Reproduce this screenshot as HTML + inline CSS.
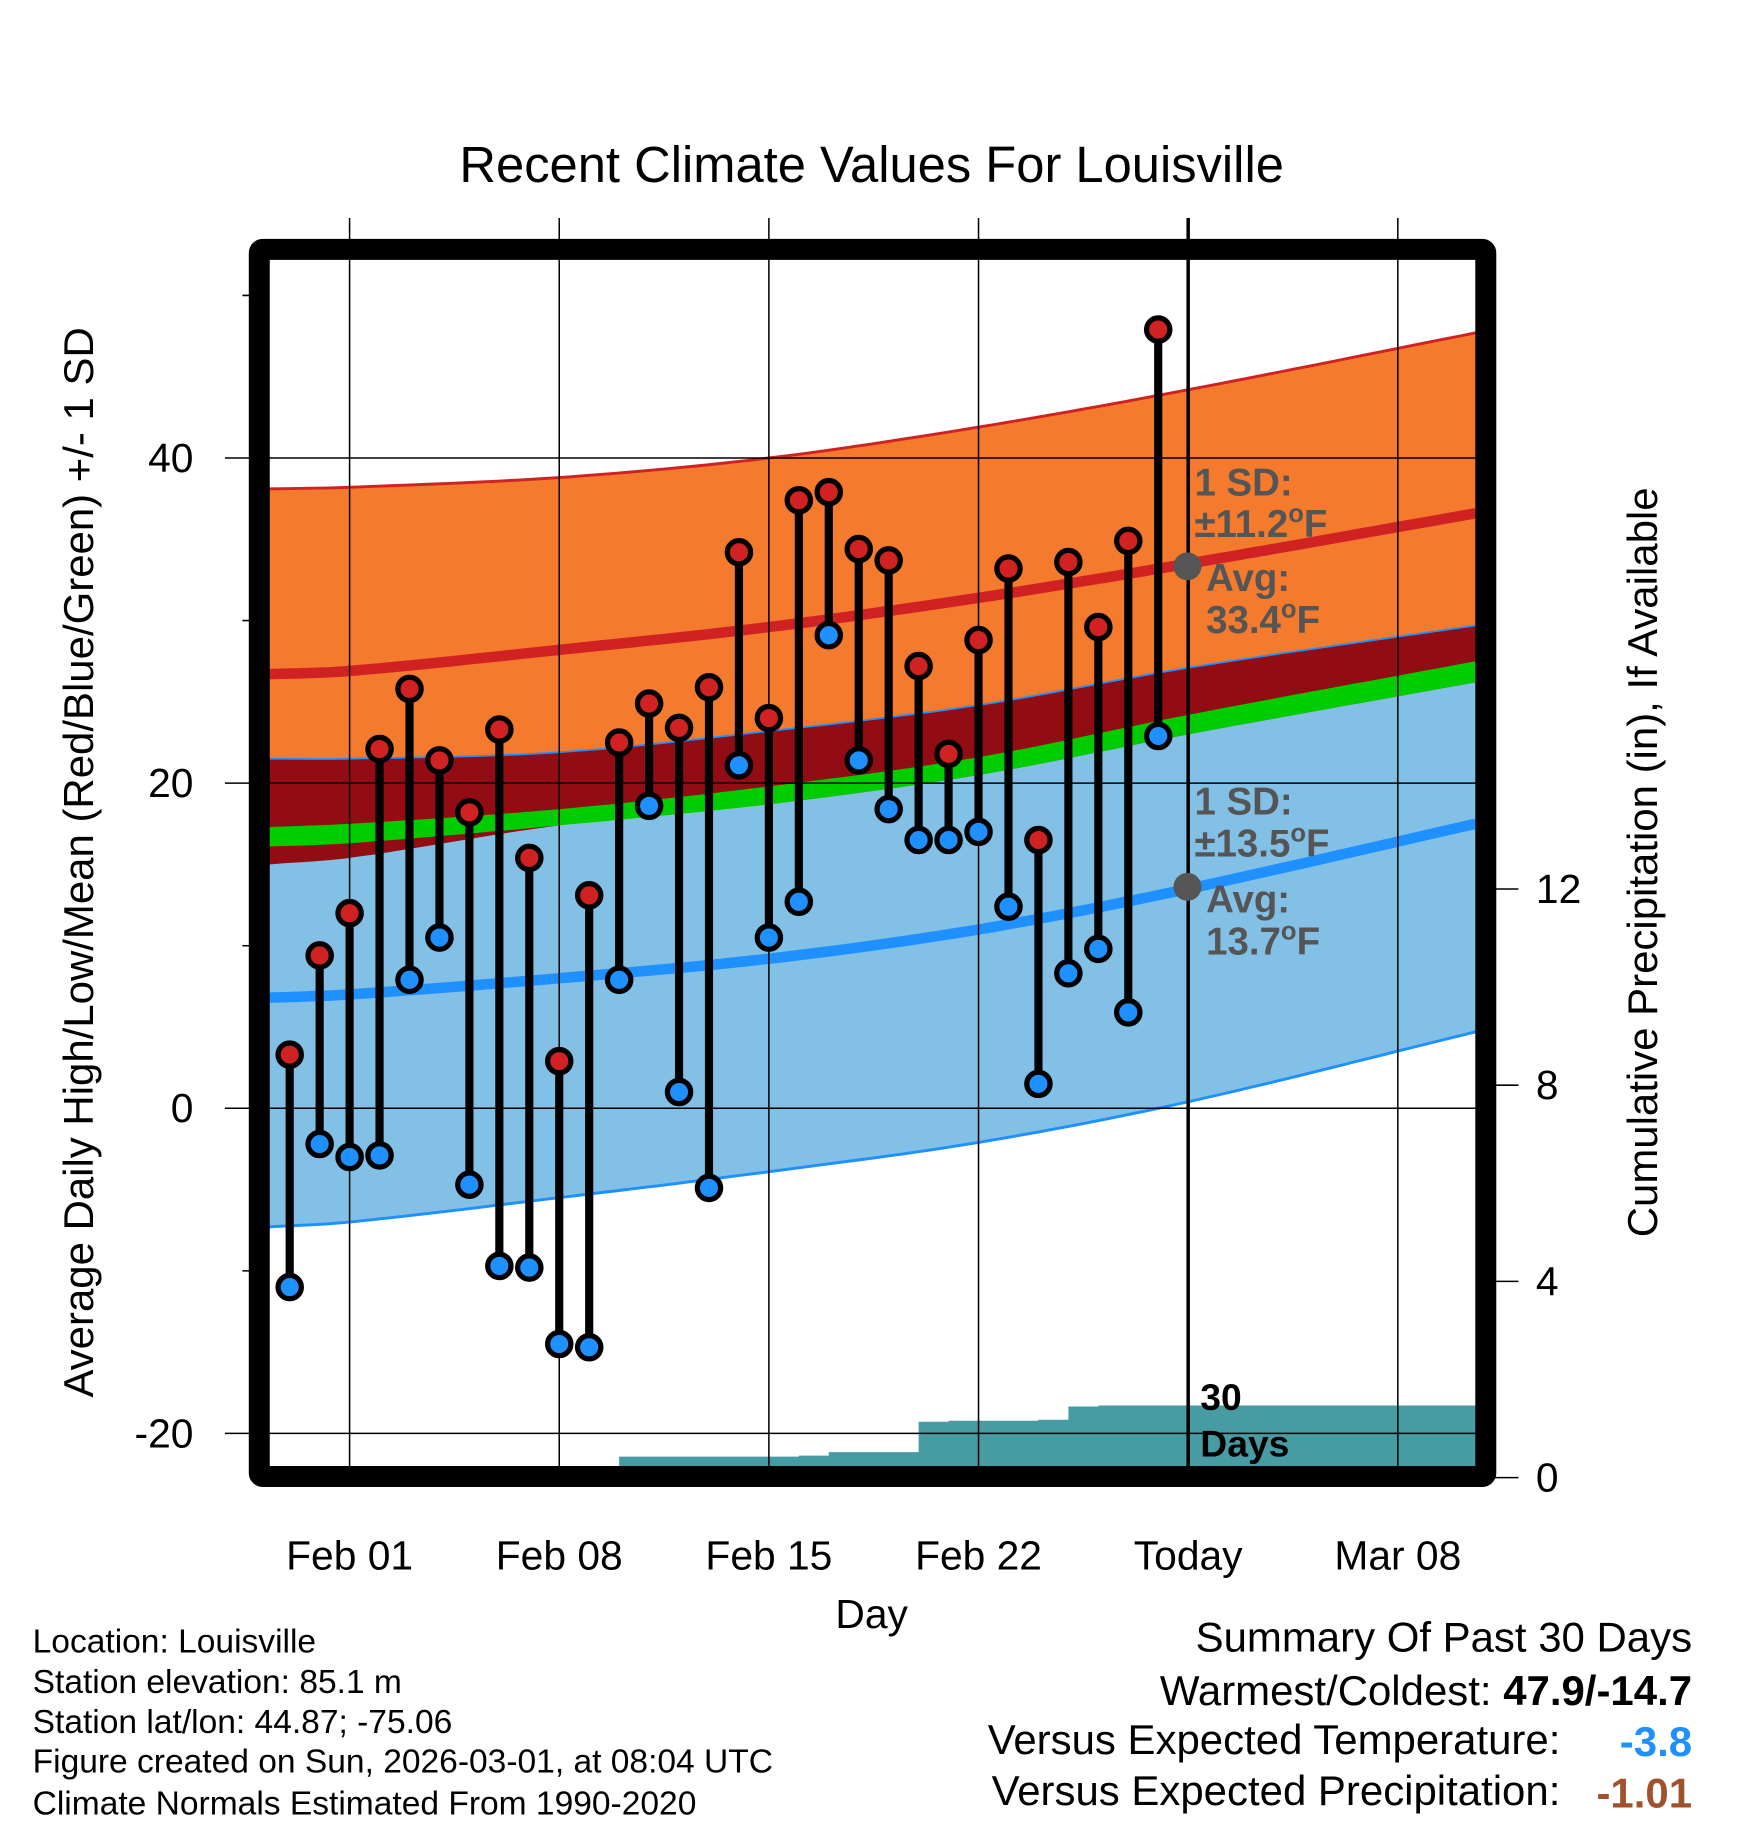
<!DOCTYPE html>
<html><head><meta charset="utf-8"><style>
html,body{margin:0;padding:0;background:#fff;}
svg{display:block;font-family:"Liberation Sans",sans-serif;}
</style></head><body>
<svg id="chart" width="1748" height="1828" viewBox="0 0 1500 1568.6" xmlns="http://www.w3.org/2000/svg">
<text x="748" y="156" font-size="43.5" text-anchor="middle">Recent Climate Values For Louisville</text>
<g id="plot"></g>
<text x="748" y="1397" font-size="35" text-anchor="middle">Day</text>
<text transform="translate(80,740) rotate(-90)" font-size="36" text-anchor="middle">Average Daily High/Low/Mean (Red/Blue/Green) +/- 1 SD</text>
<text transform="translate(1422,740) rotate(-90)" font-size="36" text-anchor="middle">Cumulative Precipitation (in), If Available</text>
<g font-size="28.8">
<text x="28" y="1418">Location: Louisville</text>
<text x="28" y="1453">Station elevation: 85.1 m</text>
<text x="28" y="1487">Station lat/lon: 44.87; -75.06</text>
<text x="28" y="1521">Figure created on Sun, 2026-03-01, at 08:04 UTC</text>
<text x="28" y="1557">Climate Normals Estimated From 1990-2020</text>
</g>
<g font-size="36">
<text x="1452" y="1417" text-anchor="end">Summary Of Past 30 Days</text>
<text x="1452" y="1463" text-anchor="end">Warmest/Coldest: <tspan font-weight="bold">47.9/-14.7</tspan></text>
<text x="1339" y="1505" text-anchor="end">Versus Expected Temperature:</text>
<text x="1452" y="1507" text-anchor="end" font-weight="bold" fill="#1e90ff">-3.8</text>
<text x="1339" y="1549" text-anchor="end">Versus Expected Precipitation:</text>
<text x="1452" y="1551" text-anchor="end" font-weight="bold" fill="#a0522d">-1.01</text>
</g>
</svg>
<script>
// ---- data ----
const highs = [3.3,9.4,12.0,22.1,25.8,21.4,18.2,23.3,15.4,2.9,13.1,22.5,24.9,23.4,25.9,34.2,24.0,37.4,37.9,34.4,33.7,27.2,21.8,28.8,33.2,16.5,33.6,29.6,34.9,47.9];
const lows = [-11.0,-2.2,-3.0,-2.9,7.9,10.5,-4.7,-9.7,-9.8,-14.5,-14.7,7.9,18.6,1.0,-4.9,21.1,10.5,12.7,29.1,21.4,18.4,16.5,16.5,17.0,12.4,1.5,8.3,9.8,5.9,22.9];
const precip = [0,0,0,0,0,0,0,0.02,0.03,0.05,0.05,0.43,0.43,0.43,0.43,0.43,0.43,0.45,0.52,0.52,0.52,1.14,1.16,1.16,1.16,1.18,1.45,1.47,1.47,1.47];
const normDays = [-2.7,0,7,14,21,28,37.6];
const highTop = [38.1,38.2,38.8,40.0,41.9,44.2,47.7];
const highMean = [26.7,26.9,28.2,29.6,31.4,33.5,36.6];
const highBot = [21.5,21.5,21.9,23.2,24.8,27.1,29.7];
const greenTop = [17.3,17.5,18.4,19.8,21.6,24.2,27.5];
const greenBot = [16.1,16.3,17.4,18.7,20.5,23.0,26.2];
const redBot = [15.0,15.4,17.4,18.7,20.5,23.0,26.2];
const lowMean = [6.8,7.0,8.0,9.2,11.0,13.5,17.5];
const lowBot = [-7.3,-7.0,-5.5,-3.9,-2.1,0.4,4.7];
const yTicks = [40,20,0,-20];
const yMinor = [50,30,10,-10];
const pTicks = [0,4,8,12];
const xTickDays = [0,7,14,21,28,35];
const xTickLabels = ["Feb 01","Feb 08","Feb 15","Feb 22","Today","Mar 08"];
const startDay = -2;
// ---- scales ----
const L=231,R=1267,T=222,B=1260;
const xs = d => 300 + 25.7*d;
const ys = v => 951 - 13.95*v;
const yp = p => 1268 - 42.1*p;
const NS="http://www.w3.org/2000/svg";
const plot=document.getElementById('plot');
function mk(tag,attrs,parent){const e=document.createElementNS(NS,tag);for(const k in attrs)e.setAttribute(k,attrs[k]);(parent||plot).appendChild(e);return e;}
// smooth (monotone-ish cubic) sampling of normals
function interp(arr,d){
 const n=normDays.length;let i=0;while(i<n-2&&d>normDays[i+1])i++;
 const x0=normDays[i],x1=normDays[i+1],t=(d-x0)/(x1-x0);
 const m=k=>{const a=Math.max(0,k-1),b=Math.min(n-1,k+1);return (arr[b]-arr[a])/(normDays[b]-normDays[a]);};
 const h=x1-x0,t2=t*t,t3=t2*t;
 return (2*t3-3*t2+1)*arr[i]+(t3-2*t2+t)*h*m(i)+(-2*t3+3*t2)*arr[i+1]+(t3-t2)*h*m(i+1);
}
function line(arr){const out=[];for(let k=0;k<=80;k++){const d=normDays[0]+(normDays[normDays.length-1]-normDays[0])*k/80;out.push(xs(d).toFixed(1)+','+ys(interp(arr,d)).toFixed(1));}return out;}
function band(top,bot){return line(top).concat(line(bot).reverse()).join(' ');}
const cp=mk('clipPath',{id:'pc'});mk('rect',{x:L,y:T,width:R-L,height:B-T},cp);
const g=mk('g',{'clip-path':'url(#pc)'});
let e;
e=mk('polygon',{points:band(highTop,highBot),fill:'#f47a2e'},g);


e=mk('polygon',{points:band(greenBot,lowBot),fill:'#82c0e6'},g);


e=mk('polygon',{points:band(highBot,redBot),fill:'#920c14'},g);


e=mk('polygon',{points:band(greenTop,greenBot),fill:'#00cc00'},g);


e=mk('polyline',{points:line(highTop).join(' '),fill:'none',stroke:'#d02222','stroke-width':2.5},g);


e=mk('polyline',{points:line(highBot).join(' '),fill:'none',stroke:'#1e90ff','stroke-width':1.5},g);


e=mk('polyline',{points:line(lowBot).join(' '),fill:'none',stroke:'#1e90ff','stroke-width':2.5},g);


e=mk('polyline',{points:line(highMean).join(' '),fill:'none',stroke:'#d02222','stroke-width':9},g);


e=mk('polyline',{points:line(lowMean).join(' '),fill:'none',stroke:'#1e90ff','stroke-width':9},g);


// precipitation step area
let pts=[xs(startDay-0.7)+','+yp(0)];
precip.forEach((p,i)=>{const x=xs(startDay+i);pts.push(x+','+yp(i?precip[i-1]:0));pts.push(x+','+yp(p));});
pts.push(R+','+yp(precip[precip.length-1]));pts.push(R+','+yp(0));
e=mk('polygon',{points:pts.join(' '),fill:'#479ba3'},g);


// gridlines
xTickDays.forEach((d,i)=>{
 e=mk('line',{x1:xs(d),x2:xs(d),y1:187,y2:B,stroke:'#000','stroke-width':d===28?3:1.3});
 
 
 e=mk('text',{x:xs(d),y:1347,'font-size':35,'text-anchor':'middle'});e.textContent=xTickLabels[i];
 
 
});
yTicks.forEach(v=>{
 e=mk('line',{x1:193,x2:R,y1:ys(v),y2:ys(v),stroke:'#000','stroke-width':1.3});
 
 
 e=mk('text',{x:166,y:ys(v)+12,'font-size':35,'text-anchor':'end'});e.textContent=v;
 
 
});
yMinor.forEach(v=>{
 e=mk('line',{x1:208,x2:L,y1:ys(v),y2:ys(v),stroke:'#000','stroke-width':1.3});
 
 
});
pTicks.forEach(p=>{
 e=mk('line',{x1:1283,x2:1303,y1:yp(p),y2:yp(p),stroke:'#000','stroke-width':1.3});
 
 
 e=mk('text',{x:1318,y:yp(p)+12,'font-size':35});e.textContent=p;
 
 
});
// daily bars
highs.forEach((h,i)=>{
 const x=xs(startDay+i);
 e=mk('line',{x1:x,x2:x,y1:ys(h),y2:ys(lows[i]),stroke:'#000','stroke-width':7});
 
 
});
highs.forEach((h,i)=>{
 const x=xs(startDay+i);
 e=mk('circle',{cx:x,cy:ys(h),r:10,fill:'#d02222',stroke:'#000','stroke-width':4.5});
 
 
 e=mk('circle',{cx:x,cy:ys(lows[i]),r:10,fill:'#1e90ff',stroke:'#000','stroke-width':4.5});
 
 
});
// annotations
function ann(lines,ysArr,dotY,name){
 const gg=mk('g',{fill:'#555','font-weight':'bold','font-size':33});
 
 
 mk('circle',{cx:1019,cy:dotY,r:12,fill:'#555'},gg);
 lines.forEach((t,i)=>{const tx=mk('text',{x:i<2?1025:1035,y:ysArr[i]},gg);tx.innerHTML=t;});
}
const deg='<tspan font-size="22" dy="-13">o</tspan><tspan dy="13">F</tspan>';
ann(['1 SD:','±11.2'+deg,'Avg:','33.4'+deg],[425,461,507,543],486,'high-annotation');
ann(['1 SD:','±13.5'+deg,'Avg:','13.7'+deg],[699,735,783,819],761,'low-annotation');
e=mk('text',{x:1030,y:1210,'font-size':32,'font-weight':'bold'});e.textContent='30';


e=mk('text',{x:1030,y:1250,'font-size':32,'font-weight':'bold'});e.textContent='Days';


// frame
e=mk('rect',{x:222.5,y:214,width:1052.5,height:1053,fill:'none',stroke:'#000','stroke-width':18,rx:3});


</script>
</body></html>
